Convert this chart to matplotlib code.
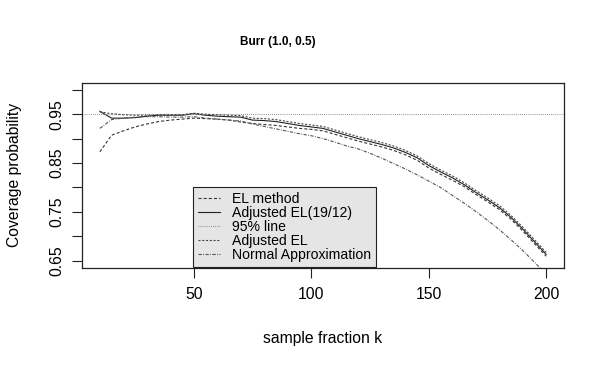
import matplotlib
matplotlib.use("Agg")
import matplotlib.pyplot as plt
import numpy as np

plt.rcParams['font.family'] = ['Liberation Sans', 'DejaVu Sans']
plt.rcParams['lines.scale_dashes'] = False

k = list(range(10, 201, 5))

el_method = [0.873, 0.907, 0.916, 0.924, 0.930, 0.935, 0.938, 0.940, 0.942, 0.941,
             0.940, 0.938, 0.934, 0.931, 0.929, 0.927, 0.924, 0.921, 0.919, 0.916,
             0.909, 0.902, 0.895, 0.889, 0.883, 0.876, 0.867, 0.856, 0.840, 0.827,
             0.815, 0.802, 0.786, 0.771, 0.755, 0.735, 0.711, 0.685, 0.659]
adj_el_1912 = [0.956, 0.942, 0.942, 0.943, 0.946, 0.948, 0.948, 0.948, 0.951, 0.948,
               0.946, 0.945, 0.944, 0.938, 0.937, 0.935, 0.931, 0.927, 0.924, 0.921,
               0.914, 0.907, 0.900, 0.894, 0.888, 0.881, 0.872, 0.861, 0.845, 0.832,
               0.820, 0.806, 0.790, 0.775, 0.759, 0.739, 0.715, 0.689, 0.663]
adj_el = [0.955, 0.951, 0.949, 0.948, 0.948, 0.949, 0.949, 0.949, 0.952, 0.950,
          0.949, 0.948, 0.947, 0.942, 0.941, 0.939, 0.935, 0.931, 0.928, 0.925,
          0.918, 0.911, 0.904, 0.898, 0.892, 0.885, 0.876, 0.865, 0.849, 0.836,
          0.824, 0.810, 0.794, 0.779, 0.763, 0.743, 0.719, 0.693, 0.667]
normal_approx = [0.921, 0.939, 0.942, 0.944, 0.945, 0.945, 0.944, 0.944, 0.945, 0.942,
                 0.940, 0.938, 0.936, 0.930, 0.925, 0.920, 0.915, 0.910, 0.906, 0.900,
                 0.893, 0.885, 0.879, 0.870, 0.860, 0.849, 0.838, 0.826, 0.813, 0.800,
                 0.784, 0.768, 0.751, 0.733, 0.714, 0.693, 0.671, 0.647, 0.622]
line95 = 0.95

labels = ["EL method", "Adjusted EL(19/12)", "95% line", "Adjusted EL", "Normal Approximation"]

W, H = 607, 370
fig = plt.figure(figsize=(W/100, H/100), dpi=100)
ax = fig.add_axes([82/W, 1-267.5/H, (564-82)/W, (267.5-83)/H])

lw = 0.8
h1, = ax.plot(k, el_method, color='#333333', lw=lw, linestyle=(0, (2.2, 1.5)))
h2, = ax.plot(k, adj_el_1912, color='#222222', lw=lw, linestyle='-')
h3 = ax.axhline(line95, color='#888888', lw=lw, linestyle=(0, (0.6, 0.9)))
h4, = ax.plot(k, adj_el, color='#444444', lw=lw, linestyle=(0, (1.5, 1.2)))
h5, = ax.plot(k, normal_approx, color='#555555', lw=lw, linestyle=(0, (2.4, 1.0, 0.6, 1.0)))

ax.set_xlim(2.4, 207.6)
ax.set_ylim(0.636, 1.014)
ax.set_xticks([50, 100, 150, 200])
ax.set_xticklabels(["50", "100", "150", "200"])
yt = [0.65, 0.70, 0.75, 0.80, 0.85, 0.90, 0.95, 1.00]
ax.set_yticks(yt)
ax.set_yticklabels(["0.65", "", "0.75", "", "0.85", "", "0.95", ""], rotation=90, va='center')
ax.tick_params(axis='both', direction='out', length=7, width=0.8, labelsize=11.3, color='#222222')
ax.tick_params(axis='x', pad=7)
ax.tick_params(axis='y', pad=6)
for s in ax.spines.values():
    s.set_linewidth(0.9)
    s.set_color('#222222')

fig.text(278/W, 1-42/H, "Burr (1.0, 0.5)", ha='center', va='center', fontsize=8.5, fontweight='bold')
fig.text(322.5/W, 1-339/H, "sample fraction k", ha='center', va='center', fontsize=11.3)
fig.text(15/W, 1-175/H, "Coverage probability", ha='center', va='center', fontsize=11.3, rotation=90)

leg = ax.legend([h1, h2, h3, h4, h5], labels, loc='upper left',
                bbox_to_anchor=((193-82)/(564-82), (267.5-187.3)/(267.5-83)),
                fontsize=10.1, frameon=True, fancybox=False, framealpha=1,
                facecolor='#e5e5e5', edgecolor='#222222', handlelength=1.6,
                handletextpad=0.85, labelspacing=0.0, borderpad=0.35, borderaxespad=0)
leg.get_frame().set_linewidth(0.8)

fig.savefig("out.png", dpi=100)
